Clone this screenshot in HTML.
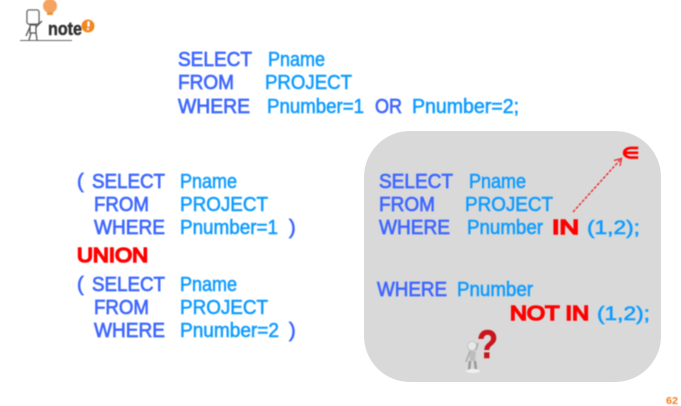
<!DOCTYPE html>
<html>
<head>
<meta charset="utf-8">
<style>
html,body{margin:0;padding:0;background:#fff;width:681px;height:406px;overflow:hidden}
svg{display:block}
text{font-family:"Liberation Sans",sans-serif;font-size:20px}
.b text,text.b{fill:#3f68ff;stroke:#3f68ff;stroke-width:.7}
.c text,text.c{fill:#0a9bff;stroke:#0a9bff;stroke-width:.55}
text.r{fill:#ff0000;stroke:#ff0000;stroke-width:1.600}
</style>
</head>
<body>
<svg width="681" height="406" viewBox="0 0 681 406" xmlns="http://www.w3.org/2000/svg">
<defs><filter id="s" x="-5%" y="-5%" width="110%" height="110%"><feGaussianBlur stdDeviation="0.45"/></filter></defs>
<rect x="364" y="131" width="297" height="251" rx="46" fill="#d9d9d9"/>
<g filter="url(#s)">
<!-- logo -->
<circle cx="50" cy="6" r="7" fill="#f4a460"/>
<rect x="47" y="12" width="6" height="3" fill="#e8923c"/>
<rect x="27" y="10" width="12" height="14" rx="2" fill="#fff" stroke="#555" stroke-width="1.300"/>
<path d="M30 25h6v8h-6zM31 33l-2 7M36 33l1 7M30 27l-4 9M36 27l6-6" fill="none" stroke="#555" stroke-width="1.300"/>
<path d="M20 40.500H72" stroke="#666" stroke-width="1"/>
<text x="48" y="35" font-weight="bold" style="font-size:18px;stroke:#333;stroke-width:.5" fill="#333" textLength="34" lengthAdjust="spacingAndGlyphs">note</text>
<circle cx="88" cy="26" r="6.500" fill="#ee8a1d"/>
<path d="M88.500 21.500v5" stroke="#fff" stroke-width="2"/><circle cx="88" cy="29" r="1" fill="#fff"/>

<!-- top -->
<g class="b">
<text x="178" y="66" textLength="74" lengthAdjust="spacingAndGlyphs">SELECT</text>
<text x="178" y="89" textLength="56" lengthAdjust="spacingAndGlyphs">FROM</text>
<text x="178" y="113" textLength="72" lengthAdjust="spacingAndGlyphs">WHERE</text>
</g>
<g class="c">
<text x="268" y="66" textLength="57" lengthAdjust="spacingAndGlyphs">Pname</text>
<text x="265" y="89" textLength="87" lengthAdjust="spacingAndGlyphs">PROJECT</text>
<text x="267" y="113" textLength="97" lengthAdjust="spacingAndGlyphs">Pnumber=1</text>
<text x="412" y="113" textLength="107" lengthAdjust="spacingAndGlyphs">Pnumber=2;</text>
</g>
<text class="b" x="375" y="113" textLength="27" lengthAdjust="spacingAndGlyphs">OR</text>

<!-- left -->
<g class="b">
<text x="77" y="188">(</text>
<text x="92" y="188" textLength="73" lengthAdjust="spacingAndGlyphs">SELECT</text>
<text x="94" y="211" textLength="55" lengthAdjust="spacingAndGlyphs">FROM</text>
<text x="94" y="234" textLength="71" lengthAdjust="spacingAndGlyphs">WHERE</text>
<text x="289" y="234">)</text>
<text x="77" y="291">(</text>
<text x="92" y="291" textLength="73" lengthAdjust="spacingAndGlyphs">SELECT</text>
<text x="94" y="314" textLength="55" lengthAdjust="spacingAndGlyphs">FROM</text>
<text x="94" y="337" textLength="71" lengthAdjust="spacingAndGlyphs">WHERE</text>
<text x="289" y="337">)</text>
</g>
<g class="c">
<text x="180" y="188" textLength="57" lengthAdjust="spacingAndGlyphs">Pname</text>
<text x="180" y="211" textLength="88" lengthAdjust="spacingAndGlyphs">PROJECT</text>
<text x="180" y="234" textLength="98" lengthAdjust="spacingAndGlyphs">Pnumber=1</text>
<text x="180" y="291" textLength="57" lengthAdjust="spacingAndGlyphs">Pname</text>
<text x="180" y="314" textLength="88" lengthAdjust="spacingAndGlyphs">PROJECT</text>
<text x="180" y="337" textLength="99" lengthAdjust="spacingAndGlyphs">Pnumber=2</text>
</g>
<text class="r" x="77" y="262" textLength="71" lengthAdjust="spacingAndGlyphs">UNION</text>

<!-- right -->
<g class="b">
<text x="379" y="188" textLength="74" lengthAdjust="spacingAndGlyphs">SELECT</text>
<text x="379" y="211" textLength="56" lengthAdjust="spacingAndGlyphs">FROM</text>
<text x="379" y="234" textLength="71" lengthAdjust="spacingAndGlyphs">WHERE</text>
<text x="377" y="296" textLength="70" lengthAdjust="spacingAndGlyphs">WHERE</text>
</g>
<g class="c">
<text x="469" y="188" textLength="57" lengthAdjust="spacingAndGlyphs">Pname</text>
<text x="465" y="211" textLength="88" lengthAdjust="spacingAndGlyphs">PROJECT</text>
<text x="467" y="234" textLength="76" lengthAdjust="spacingAndGlyphs">Pnumber</text>
<text x="587" y="234" textLength="53" lengthAdjust="spacingAndGlyphs" style="font-size:19px">(1,2);</text>
<text x="457" y="296" textLength="76" lengthAdjust="spacingAndGlyphs">Pnumber</text>
<text x="597" y="320" textLength="53" lengthAdjust="spacingAndGlyphs" style="font-size:19px">(1,2);</text>
</g>
<text class="r" x="552" y="234" textLength="27" lengthAdjust="spacingAndGlyphs">IN</text>
<text class="r" x="510" y="320" textLength="79" lengthAdjust="spacingAndGlyphs">NOT IN</text>

<!-- element-of symbol and arrow -->
<text x="622" y="158" fill="#ff0000" stroke="#ff0000" stroke-width=".8" font-weight="bold" style="font-size:15px" textLength="17" lengthAdjust="spacingAndGlyphs">∈</text>
<path d="M573 212L620 160" stroke="#f02020" stroke-width="1.300" stroke-dasharray="3 1.500" fill="none"/>
<path d="M614 160.500L621.500 158.500L620 166" stroke="#f02020" stroke-width="1.200" fill="none"/>

<!-- thinking figure -->
<circle cx="472" cy="346" r="4.500" fill="#e8e8e8" stroke="#aaa" stroke-width=".6"/>
<path d="M469 351h7l-1 10h-5z" fill="#bdbdbd"/>
<path d="M470 361l-1 10M475 361l1 10" stroke="#999" stroke-width="2.500"/>
<path d="M470 351l-4 11M476 350l2-7" stroke="#aaa" stroke-width="1.500"/>
<ellipse cx="473" cy="371" rx="7" ry="2" fill="#f0f0f0"/>
<text x="477" y="358" fill="#c8161d" stroke="#c8161d" stroke-width=".6" font-weight="bold" style="font-size:40px" textLength="21" lengthAdjust="spacingAndGlyphs">?</text>

<text x="666" y="404" fill="#ee7d22" font-weight="bold" style="font-size:10px" textLength="12" lengthAdjust="spacingAndGlyphs">62</text>
</g>
</svg>
</body>
</html>
